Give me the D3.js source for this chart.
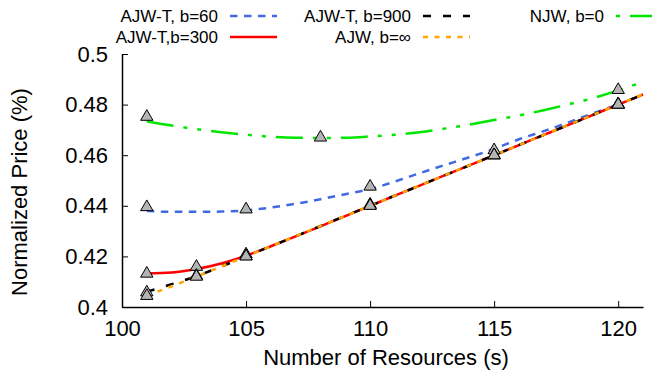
<!DOCTYPE html>
<html>
<head>
    <title>Normalized Price vs Number of Resources</title>
    <script src="https://d3js.org/d3.v7.min.js"></script>
    <style>
        body {
            margin: 0;
            background: #fff;
            font-family: "Liberation Sans", Arial, sans-serif;
        }
        .tick-label { font-size: 22px; fill: #000; }
        .axis-title { font-size: 22px; fill: #000; }
        .legend-text { font-size: 17px; fill: #000; }
    </style>
</head>
<body>
    <div id="chart"></div>
    <script>
        // sampled curve positions (number of resources)
        const curveX = [101, 102, 103, 104, 105, 106, 107, 108, 109, 110, 111,
                        112, 113, 114, 115, 116, 117, 118, 119, 120, 121];

        // fitted curves
        const curveNJW = [0.4733, 0.4717, 0.4703, 0.4691, 0.4681, 0.4673, 0.4669, 0.4668, 0.4669, 0.4674, 0.4681,
                          0.4691, 0.4705, 0.4721, 0.4739, 0.4757, 0.4778, 0.4801, 0.4826, 0.4856, 0.4890];
        const curveB60 = [0.4380, 0.4376, 0.4376, 0.4377, 0.4382, 0.4393, 0.4408, 0.4426, 0.4446, 0.4466, 0.4496,
                          0.4529, 0.4561, 0.4592, 0.4625, 0.4663, 0.4695, 0.4730, 0.4766, 0.4800];
        const curveB300 = [0.4132, 0.4136, 0.4150, 0.4172, 0.4203, 0.4240, 0.4279, 0.4319, 0.4359, 0.4400, 0.4440,
                           0.4480, 0.4520, 0.4560, 0.4600, 0.4640, 0.4680, 0.4720, 0.4760, 0.4800, 0.4840];
        const curveB900 = [0.4060, 0.4090, 0.4122, 0.4160, 0.4200, 0.4240, 0.4280, 0.4320, 0.4360, 0.4400, 0.4440,
                           0.4480, 0.4520, 0.4560, 0.4600, 0.4640, 0.4680, 0.4720, 0.4760, 0.4800, 0.4840];
        const curveInf = [0.4045, 0.4082, 0.4120, 0.4160, 0.4200, 0.4240, 0.4280, 0.4320, 0.4360, 0.4400, 0.4440,
                          0.4480, 0.4520, 0.4560, 0.4600, 0.4640, 0.4680, 0.4720, 0.4760, 0.4800, 0.4840];

        // measured points (triangles)
        const ptsNJWx = [101, 108, 120];
        const ptsNJWy = [0.4752, 0.4670, 0.4858];
        const ptsB60x = [101, 105, 110, 115, 120];
        const ptsB60y = [0.4395, 0.4386, 0.4476, 0.4620, 0.4802];
        const ptsX = [101, 103, 105, 110, 115, 120];
        const ptsB300y = [0.4132, 0.4159, 0.4208, 0.4405, 0.4600, 0.4800];
        const ptsB900y = [0.4058, 0.4124, 0.4201, 0.4402, 0.4600, 0.4800];
        const ptsInfy = [0.4044, 0.4120, 0.4200, 0.4400, 0.4600, 0.4800];

        const xTicks = [100, 105, 110, 115, 120];
        const yTicks = [0.4, 0.42, 0.44, 0.46, 0.48, 0.5];

        const width = 652, height = 385;
        const svg = d3.select('#chart').append('svg')
            .attr('width', width)
            .attr('height', height);

        const x = d3.scaleLinear().domain([100, 121]).range([122, 643]);
        const y = d3.scaleLinear().domain([0.4, 0.5]).range([307, 54]);

        // axes (left + bottom only, ticks pointing inward)
        const xAxis = svg.append('g')
            .attr('transform', `translate(0,${y(0.4)})`)
            .call(d3.axisBottom(x).tickValues(xTicks).tickSizeInner(-6).tickSizeOuter(0).tickPadding(13));
        const yAxis = svg.append('g')
            .attr('transform', `translate(${x(100)},0)`)
            .call(d3.axisLeft(y).tickValues(yTicks).tickSizeInner(-6).tickSizeOuter(0).tickPadding(14)
                .tickFormat(d => String(+d.toFixed(2))));
        [xAxis, yAxis].forEach(a => {
            a.attr('font-family', null).attr('font-size', null);
            a.select('.domain').attr('stroke', '#000').attr('stroke-width', 1.5);
            a.selectAll('.tick line').attr('stroke', '#000').attr('stroke-width', 1);
            a.selectAll('.tick text').attr('class', 'tick-label');
        });

        svg.append('text').attr('class', 'axis-title')
            .attr('x', 386).attr('y', 365)
            .attr('text-anchor', 'middle')
            .text('Number of Resources (s)');
        svg.append('text').attr('class', 'axis-title')
            .attr('transform', 'translate(27,192) rotate(-90)')
            .attr('text-anchor', 'middle')
            .text('Normalized Price (%)');

        const series = [
            { name: 'AJW-T, b=60', xs: curveX, ys: curveB60, px: ptsB60x, py: ptsB60y, color: '#4169e1', dash: '7.5,6.5', off: 0, col: 0, row: 0 },
            { name: 'NJW, b=0', xs: curveX, ys: curveNJW, px: ptsNJWx, py: ptsNJWy, color: '#00e600', dash: '27,10,4,10,4,10', off: 51, col: 2, row: 0 },
            { name: 'AJW-T,b=300', xs: curveX, ys: curveB300, px: ptsX, py: ptsB300y, color: '#ff0000', dash: null, off: 0, col: 0, row: 1 },
            { name: 'AJW-T, b=900', xs: curveX, ys: curveB900, px: ptsX, py: ptsB900y, color: '#000000', dash: '8,12', off: 0, col: 1, row: 0 },
            { name: 'AJW, b=\u221e', xs: curveX, ys: curveInf, px: ptsX, py: ptsInfy, color: '#ffa500', dash: '5,6.5', off: 0, col: 1, row: 1 }
        ];

        const line = d3.line()
            .x(d => x(d[0]))
            .y(d => y(d[1]))
            .curve(d3.curveMonotoneX);

        const lines = svg.append('g');
        series.forEach(s => {
            lines.append('path')
                .datum(s.ys.map((v, i) => [s.xs[i], v]))
                .attr('d', line)
                .attr('fill', 'none')
                .attr('stroke', s.color)
                .attr('stroke-width', 2.5)
                .attr('stroke-dasharray', s.dash);
        });

        // triangles on top
        const tri = d3.symbol().type(d3.symbolTriangle).size(66);
        const marks = svg.append('g');
        series.forEach(s => {
            marks.selectAll(null)
                .data(s.py.map((v, i) => [s.px[i], v]))
                .join('path')
                .attr('d', tri)
                .attr('transform', d => `translate(${x(d[0])},${y(d[1])})`)
                .attr('fill', '#b4b4b4')
                .attr('stroke', '#000')
                .attr('stroke-width', 1);
        });

        // legend, 3 columns x 2 rows
        const colEnd = [218, 411, 604];
        const rowY = [16, 37];
        const legend = svg.append('g');
        series.forEach(s => {
            const tx = colEnd[s.col], ty = rowY[s.row];
            legend.append('text').attr('class', 'legend-text')
                .attr('x', tx).attr('y', ty)
                .attr('dy', '0.35em')
                .attr('text-anchor', 'end')
                .text(s.name);
            legend.append('line')
                .attr('x1', tx + 12).attr('x2', tx + 59)
                .attr('y1', ty).attr('y2', ty)
                .attr('stroke', s.color)
                .attr('stroke-width', 2.5)
                .attr('stroke-dasharray', s.dash)
                .attr('stroke-dashoffset', s.off);
        });
    </script>
</body>
</html>
